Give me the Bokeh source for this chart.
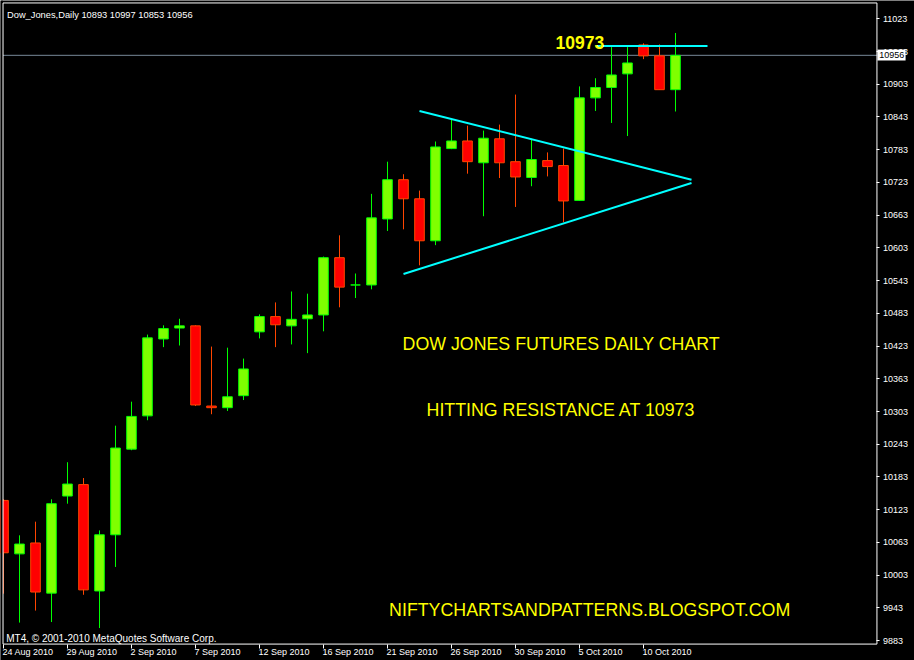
from bokeh.plotting import figure
from bokeh.models import Range1d, FixedTicker, ColumnDataSource, LinearAxis
from bokeh.core.properties import value
from bokeh.embed import file_html
from bokeh.resources import INLINE

# ---------------- data ----------------
header = "Dow_Jones,Daily  10893 10997 10853 10956"
copyright_txt = "MT4, \u00a9 2001-2010 MetaQuotes Software Corp."

date_labels = ["24 Aug 2010", "29 Aug 2010", "2 Sep 2010", "7 Sep 2010", "12 Sep 2010",
               "16 Sep 2010", "21 Sep 2010", "26 Sep 2010", "30 Sep 2010", "5 Oct 2010",
               "10 Oct 2010"]
date_ticks = [0, 4, 8, 12, 16, 20, 24, 28, 32, 36, 40]

opens = [10140, 10042, 10062, 9970, 10148, 10169, 9974, 10077, 10234, 10295,
         10436, 10456, 10460, 10313, 10310, 10332, 10449, 10477, 10460, 10473,
         10480, 10585, 10535, 10535, 10656, 10728, 10693, 10616, 10785, 10799,
         10759, 10803, 10761, 10732, 10763, 10754, 10690, 10878, 10897, 10922,
         10975, 10955, 10893]
highs = [10142, 10076, 10101, 10142, 10210, 10181, 10085, 10277, 10321, 10444,
         10461, 10473, 10461, 10422, 10420, 10400, 10481, 10503, 10523, 10519,
         10587, 10626, 10556, 10702, 10761, 10738, 10708, 10798, 10838, 10827,
         10818, 10829, 10884, 10803, 10778, 10785, 10899, 10914, 10971, 10971,
         10978, 10976, 10997]
lows = [9969, 9916, 9938, 9917, 10134, 9967, 9906, 10018, 10232, 10287,
        10421, 10424, 10313, 10298, 10304, 10324, 10437, 10421, 10426, 10410,
        10450, 10494, 10511, 10527, 10634, 10637, 10571, 10608, 10784, 10739,
        10661, 10731, 10678, 10716, 10734, 10650, 10689, 10854, 10832, 10808,
        10949, 10893, 10853]
closes = [10044, 10060, 9972, 10134, 10170, 9976, 10077, 10236, 10294, 10438,
          10455, 10460, 10315, 10310, 10330, 10381, 10477, 10462, 10472, 10480,
          10585, 10531, 10535, 10658, 10728, 10693, 10616, 10788, 10799, 10761,
          10804, 10759, 10733, 10765, 10752, 10689, 10878, 10897, 10920, 10942,
          10955, 10893, 10956]

price_ticks = [9883, 9943, 10003, 10063, 10123, 10183, 10243, 10303, 10363, 10423,
               10483, 10543, 10603, 10663, 10723, 10783, 10843, 10903, 10963, 11023]
last_price = 10956
resistance = 10973

upper_line_x = [26.0, 43.0]
upper_line_y = [10854, 10728]
lower_line_x = [25.0, 43.0]
lower_line_y = [10555, 10722]
resist_x = [37.0, 44.0]

notes = ["DOW JONES FUTURES DAILY CHART", "HITTING RESISTANCE AT 10973",
         "NIFTYCHARTSANDPATTERNS.BLOGSPOT.COM"]

# ---------------- layout (chart window in data units) ----------------
W, H = 914, 660
x_lo, x_hi = -0.1875, 56.9375          # whole canvas
y_lo, y_hi = 9846.5, 11056.5
win_l, win_r = -0.03, 54.59            # chart window box (MT4 frame)
win_b, win_t = 9876.6, 11052.0

FONT = "Liberation Sans"

p = figure(width=W, height=H, output_backend="svg", toolbar_location=None, tools="",
           x_range=Range1d(x_lo, x_hi), y_range=Range1d(y_lo, y_hi),
           x_axis_type=None, y_axis_type=None,
           background_fill_color="black", border_fill_color="black",
           min_border=0, min_border_left=0, min_border_right=0,
           min_border_top=0, min_border_bottom=0)
p.outline_line_color = None
p.grid.visible = False

# price scale (right)
yax = LinearAxis(fixed_location=win_r, ticker=FixedTicker(ticks=price_ticks))
yax.axis_line_color = None
yax.major_tick_line_color = "white"
yax.major_tick_out = 3
yax.major_tick_in = 0
yax.minor_tick_line_color = None
yax.major_label_standoff = 3
yax.major_label_text_color = "white"
yax.major_label_text_font = FONT
yax.major_label_text_font_size = "9px"
p.add_layout(yax, "right")

# time scale: tick marks
xax = LinearAxis(fixed_location=win_b, ticker=FixedTicker(ticks=date_ticks))
xax.axis_line_color = None
xax.major_tick_line_color = "white"
xax.major_tick_out = 4
xax.major_tick_in = 0
xax.minor_tick_line_color = None
xax.major_label_overrides = {t: "" for t in date_ticks}
xax.major_label_text_font_size = "1px"
xax.major_label_text_color = None
p.add_layout(xax, "below")

# time scale: labels, left-aligned at their tick like MT4
ADV = {**{d: 0.556 for d in "0123456789"}, " ": 0.278, "A": 0.667, "u": 0.556,
       "g": 0.556, "S": 0.667, "e": 0.556, "p": 0.556, "O": 0.778, "c": 0.5, "t": 0.278}
LBL_PX = 9
px_per_bar = W / (x_hi - x_lo)
label_pos = [round(t + (sum(ADV.get(ch, 0.556) for ch in s) * LBL_PX / 2 - 1) / px_per_bar, 4)
             for t, s in zip(date_ticks, date_labels)]
xlab = LinearAxis(fixed_location=win_b, ticker=FixedTicker(ticks=label_pos))
xlab.axis_line_color = None
xlab.major_tick_line_color = None
xlab.minor_tick_line_color = None
xlab.major_tick_out = 0
xlab.major_tick_in = 0
xlab.major_label_standoff = 3
xlab.major_label_overrides = dict(zip(label_pos, date_labels))
xlab.major_label_text_color = "white"
xlab.major_label_text_font = FONT
xlab.major_label_text_font_size = f"{LBL_PX}px"
p.add_layout(xlab, "below")

# current price line
p.segment(x0=[win_l], y0=[last_price], x1=[win_r + 0.02], y1=[last_price],
          line_color="#778899", line_width=1)

# candles
n = len(opens)
bull = [c >= o for o, c in zip(opens, closes)]
src = ColumnDataSource(dict(
    x=list(range(n)),
    top=[max(o, c) for o, c in zip(opens, closes)],
    bottom=[min(o, c) for o, c in zip(opens, closes)],
    high=highs, low=lows,
    fill=["#7FFF00" if b else "#FF0000" for b in bull],
    line=["#00FF00" if b else "#FF4500" for b in bull],
))
p.segment(x0="x", y0="low", x1="x", y1="high", line_color="line", line_width=1, source=src)
p.vbar(x="x", width=0.6, top="top", bottom="bottom", fill_color="fill",
       line_color="line", line_width=1, source=src)

# mask outside the chart window on the left, then the window frame
p.quad(left=[x_lo], right=[win_l], bottom=[y_lo], top=[y_hi],
       fill_color="black", line_color=None)
p.quad(left=[win_l], right=[win_r], bottom=[win_b], top=[win_t],
       fill_color=None, line_color="white", line_width=1)

# trend lines
CYAN = "#00FFFF"
p.line(upper_line_x, upper_line_y, line_color=CYAN, line_width=2)
p.line(lower_line_x, lower_line_y, line_color=CYAN, line_width=2)
p.line(resist_x, [resistance, resistance], line_color=CYAN, line_width=2)

# texts
p.text(x=[0.22], y=[11030.3], text=[header], text_color="white", text_font=value(FONT),
       text_font_size="9.3px", text_baseline="alphabetic", text_align="left")
p.text(x=[0.17], y=[9887.3], text=[copyright_txt], text_color="white", text_font=value(FONT),
       text_font_size="10px", text_baseline="alphabetic", text_align="left")
p.text(x=[34.5], y=[10980], text=[str(resistance)], text_color="#FFFF00",
       text_font=value(FONT), text_font_size="17.5px", text_font_style="bold",
       text_baseline="alphabetic", text_align="left")
p.text(x=[24.94, 26.44, 24.1], y=[10426, 10305, 9939.5], text=notes, text_color="#FFFF00",
       text_font=value(FONT), text_font_size="17.8px",
       text_baseline="alphabetic", text_align="left")

# last price marker on the price scale
p.quad(left=[54.62], right=[56.38], bottom=[10946.5], top=[10966.5],
       fill_color="white", line_color=None, level="overlay")
p.text(x=[54.74], y=[last_price], text=[str(last_price)], text_color="black",
       text_font=value(FONT), text_font_size="9px", text_baseline="middle",
       text_align="left", level="overlay")

open("out.html", "w").write(file_html(p, INLINE))
